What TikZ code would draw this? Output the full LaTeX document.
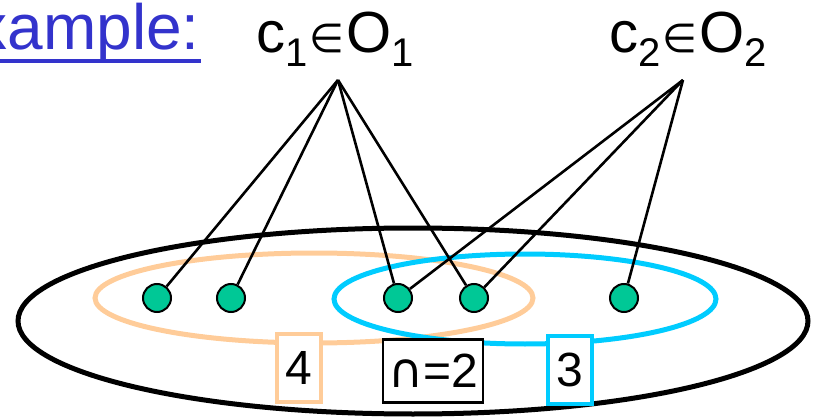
\documentclass[tikz,border=0pt]{standalone}
\usepackage{fontspec}
\setmainfont{Liberation Sans}
\newfontfamily\symfont{DejaVu Sans}
\definecolor{peach}{HTML}{FFCC99}
\definecolor{skyb}{HTML}{00CCFF}
\definecolor{dotgreen}{HTML}{00C896}
\definecolor{exblue}{HTML}{3333CC}
\newcommand\mysub[1]{\raisebox{-14pt}{\fontsize{40}{40}\selectfont #1}}
\newcommand\myin{{\fontsize{40}{40}\symfont\selectfont\hspace{2pt}∈\hspace{2pt}}}
\begin{document}
\begin{tikzpicture}[x=1pt,y=-1pt,
  dot/.style={circle, minimum size=28pt, inner sep=0pt, fill=dotgreen, draw=black, line width=2pt},
  link/.style={line width=2.6pt, black},
  numbox/.style={rectangle, fill=white, inner sep=0pt, line width=4pt, minimum width=44pt, minimum height=68pt, font=\fontsize{48}{50}\selectfont},
  title/.style={anchor=base, font=\fontsize{58}{60}\selectfont}]
\useasboundingbox (0,0) rectangle (815,420);
\clip (0,0) rectangle (815,420);
% heading
\node[anchor=base east, text=exblue, font=\fontsize{64}{66}\selectfont, inner sep=0pt] (ex) at (200,50) {Example:};
\draw[exblue, line width=4pt] (0,61) -- (201,61);
\node[title] (t1) at (335,53) {c\mysub{1}\myin O\mysub{1}};
\node[title] (t2) at (688,53) {c\mysub{2}\myin O\mysub{2}};
\coordinate (a1) at (338,80);
\coordinate (a2) at (683,80);
% sets
\draw[line width=5pt] (413,321) ellipse [x radius=395pt, y radius=93pt];
\draw[peach, line width=5pt] (314,298) ellipse [x radius=219pt, y radius=45pt];
\draw[skyb, line width=5pt] (525,299) ellipse [x radius=191pt, y radius=45pt];
% elements
\node[dot] (d1) at (157,298) {};
\node[dot] (d2) at (231,298) {};
\node[dot] (d3) at (398,298) {};
\node[dot] (d4) at (474,298) {};
\node[dot] (d5) at (624,298) {};
% links
\draw[link] (a1) -- (d1);
\draw[link] (a1) -- (d2);
\draw[link] (a1) -- (d3);
\draw[link] (a1) -- (d4);
\draw[link] (a2) -- (d3);
\draw[link] (a2) -- (d4);
\draw[link] (a2) -- (d5);
% counts
\node[numbox, draw=peach] (n4) at (299,368) {4};
\node[numbox, draw=black, line width=2.5pt, minimum width=100pt, minimum height=63pt] (n2) at (433,371) {{\symfont ∩}=2};
\node[numbox, draw=skyb] (n3) at (570,370) {3};
\end{tikzpicture}
\end{document}
